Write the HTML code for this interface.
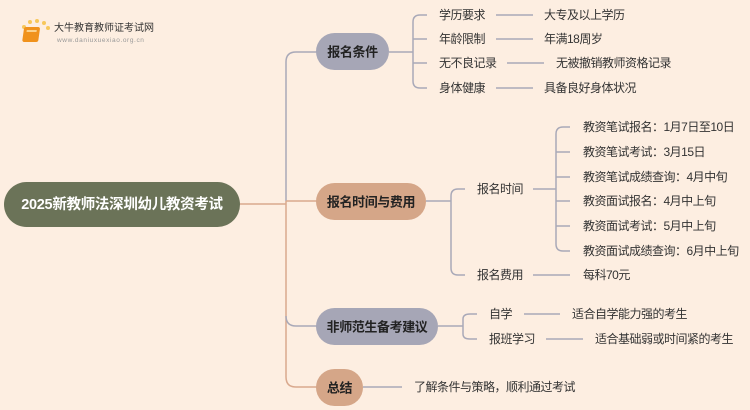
<!DOCTYPE html>
<html><head><meta charset="utf-8"><style>
html,body{margin:0;padding:0;background:#fdeee1;}
svg{display:block;font-family:"Liberation Sans","Noto Sans CJK SC",sans-serif;}
.t{font-size:12px;fill:#333;dominant-baseline:central;letter-spacing:-0.5px;}
.b{font-size:13px;font-weight:bold;fill:#222;dominant-baseline:central;text-anchor:middle;letter-spacing:-0.4px;}
</style></head><body>
<svg width="750" height="410" viewBox="0 0 750 410" xmlns="http://www.w3.org/2000/svg">
<rect width="750" height="410" fill="#fdeee1"/>
<g>
<circle cx="24" cy="27" r="2" fill="#f7c75a"/><circle cx="30" cy="22" r="2" fill="#f7c75a"/><circle cx="37" cy="21" r="2" fill="#f7c75a"/><circle cx="44" cy="23" r="2" fill="#f7c75a"/><circle cx="48" cy="28" r="2" fill="#f7c75a"/>
<rect x="28" y="27" width="16" height="15" rx="2" fill="#f0921c" transform="skewX(-8)"/>
<rect x="31" y="30" width="10" height="2" fill="#fbd18a" transform="skewX(-8)"/>
<text x="54" y="31" style="font-size:10px;fill:#333">大牛教育教师证考试网</text>
<text x="57" y="42" style="font-size:6.5px;fill:#999;letter-spacing:0.6px">www.daniuxuexiao.org.cn</text>
</g>
<g fill="none" stroke-width="1.5">
<path d="M240 204 H286" stroke="#d9a98e"/>
<path d="M296 52 H318 M296 52 Q286 52 286 62 V201" stroke="#a9a9b8"/>
<path d="M286 201 H318" stroke="#d9a98e"/>
<path d="M286 201 V377 Q286 387 296 387 H318" stroke="#d9a98e"/>
<path d="M286 316 Q286 326 296 326 H318" stroke="#a9a9b8"/>
<g stroke="#a9a9b8">
<path d="M389 52 H413"/>
<path d="M427 15 H420 Q413 15 413 22 V81 Q413 88 420 88 H427"/>
<path d="M413 39 H427 M413 63 H427"/>
<path d="M496 15 H533 M496 39 H533 M507 63 H544 M496 88 H533"/>
<path d="M426 201 H451"/>
<path d="M465 189 H458 Q451 189 451 196 V268 Q451 275 458 275 H465"/>
<path d="M533 189 H556"/>
<path d="M570 127 H563 Q556 127 556 134 V244 Q556 251 563 251 H570"/>
<path d="M556 152 H570 M556 177 H570 M556 201 H570 M556 226 H570"/>
<path d="M533 275 H570"/>
<path d="M438 326 H463"/>
<path d="M477 314 H470 Q463 314 463 319 V334 Q463 339 470 339 H477"/>
<path d="M524 314 H560 M546 339 H583"/>
<path d="M363 387 H402"/>
</g>
</g>
<rect x="4" y="182" width="236" height="45" rx="22.5" fill="#6b7358"/>
<text x="122" y="205" class="b" style="fill:#fff;font-size:14.5px;letter-spacing:-0.3px">2025新教师法深圳幼儿教资考试</text>
<rect x="316" y="33" width="73" height="37" rx="18.5" fill="#a6a6b6"/>
<text x="352.5" y="52" class="b">报名条件</text>
<rect x="316" y="183" width="110" height="37" rx="18.5" fill="#d5a688"/>
<text x="371" y="202" class="b">报名时间与费用</text>
<rect x="316" y="308" width="122" height="37" rx="18.5" fill="#a6a6b6"/>
<text x="377" y="327" class="b">非师范生备考建议</text>
<rect x="316" y="369" width="47" height="37" rx="18.5" fill="#d5a688"/>
<text x="339.5" y="388" class="b">总结</text>
<text x="439" y="15" class="t">学历要求</text><text x="544" y="15" class="t">大专及以上学历</text>
<text x="439" y="39" class="t">年龄限制</text><text x="544" y="39" class="t">年满18周岁</text>
<text x="439" y="63" class="t">无不良记录</text><text x="556" y="63" class="t">无被撤销教师资格记录</text>
<text x="439" y="88" class="t">身体健康</text><text x="544" y="88" class="t">具备良好身体状况</text>
<text x="477" y="189" class="t">报名时间</text>
<text x="583" y="127" class="t">教资笔试报名：1月7日至10日</text>
<text x="583" y="152" class="t">教资笔试考试：3月15日</text>
<text x="583" y="177" class="t">教资笔试成绩查询：4月中旬</text>
<text x="583" y="201" class="t">教资面试报名：4月中上旬</text>
<text x="583" y="226" class="t">教资面试考试：5月中上旬</text>
<text x="583" y="251" class="t">教资面试成绩查询：6月中上旬</text>
<text x="477" y="275" class="t">报名费用</text><text x="583" y="275" class="t">每科70元</text>
<text x="489" y="314" class="t">自学</text><text x="572" y="314" class="t">适合自学能力强的考生</text>
<text x="489" y="339" class="t">报班学习</text><text x="595" y="339" class="t">适合基础弱或时间紧的考生</text>
<text x="414" y="387" class="t">了解条件与策略，顺利通过考试</text>
</svg>
</body></html>
